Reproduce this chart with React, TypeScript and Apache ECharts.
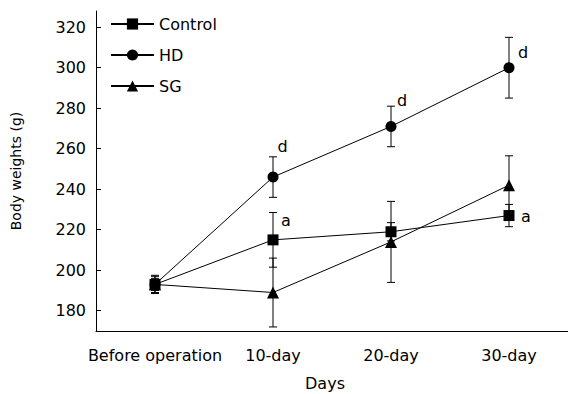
import React, { useEffect, useRef } from 'react';
import * as echarts from 'echarts';

const categories = ['Before operation', '10-day', '20-day', '30-day'];
const controlMean = [193, 215, 219, 227];
const controlSD = [4, 13.5, 4.5, 5.5];
const hdMean = [193, 246, 271, 300];
const hdSD = [4.5, 10, 10, 15];
const sgMean = [193, 189, 214, 242];
const sgSD = [3, 17, 20, 14.5];
const controlMarks = ['', 'a', '', 'a'];
const hdMarks = ['', 'd', 'd', 'd'];
const sgMarks = ['', '', '', ''];
const yTicks = [180, 200, 220, 240, 260, 280, 300, 320];

const FONT = 'DejaVu Sans';

// label offsets (style): relative to the marker centre
const markOffsets: Record<string, number[][]> = {
  Control: [[0, 0], [13, -19], [0, 0], [17, 1]],
  HD: [[0, 0], [9.5, -31], [11, -26], [14, -15]],
  SG: [[0, 0], [0, 0], [0, 0], [0, 0]],
};

function lineData(name: string, means: number[], marks: string[]) {
  return means.map((v, i) =>
    marks[i]
      ? {
          value: v,
          label: {
            show: true,
            formatter: marks[i],
            position: 'inside',
            offset: markOffsets[name][i],
            color: '#000',
            fontSize: 16,
            fontFamily: FONT,
          },
        }
      : v
  );
}

function errData(means: number[], sds: number[]) {
  return means.map((m, i) => [i, m, sds[i]]);
}

const renderErr = (params: any, api: any) => {
  const i = api.value(0);
  const m = api.value(1);
  const e = api.value(2);
  const top = api.coord([i, m + e]);
  const bot = api.coord([i, m - e]);
  const x = top[0];
  const w = 4;
  const style = { stroke: '#000', lineWidth: 1, fill: 'none' };
  return {
    type: 'group',
    children: [
      { type: 'line', shape: { x1: x, y1: top[1], x2: x, y2: bot[1] }, style },
      { type: 'line', shape: { x1: x - w, y1: top[1], x2: x + w, y2: top[1] }, style },
      { type: 'line', shape: { x1: x - w, y1: bot[1], x2: x + w, y2: bot[1] }, style },
    ],
  };
};

export default function App() {
  const ref = useRef<HTMLDivElement>(null);
  useEffect(() => {
    if (!ref.current) return;
    const chart = echarts.init(ref.current, undefined, { renderer: 'svg' });
    const lineSeries = (name: string, symbol: string, size: number, means: number[], marks: string[]) => ({
      name,
      type: 'line',
      data: lineData(name, means, marks),
      symbol,
      symbolSize: size,
      showAllSymbol: true,
      itemStyle: { color: '#000', borderWidth: 0 },
      lineStyle: { color: '#000', width: 1 },
      z: 3,
    });
    const errSeries = (means: number[], sds: number[]) => ({
      type: 'custom',
      renderItem: renderErr,
      data: errData(means, sds),
      z: 2,
      silent: true,
    });
    chart.setOption({
      animation: false,
      backgroundColor: '#fff',
      textStyle: { fontFamily: FONT },
      grid: { left: 96, right: 0, top: 11, bottom: 63, containLabel: false, outerBoundsMode: 'none' },
      legend: {
        data: ['Control', 'HD', 'SG'],
        orient: 'vertical',
        left: 110,
        top: 16,
        padding: 0,
        itemWidth: 43,
        itemHeight: 14,
        itemGap: 15,
        textStyle: { fontSize: 16, color: '#000', fontFamily: FONT },
      },
      xAxis: {
        type: 'category',
        data: categories,
        boundaryGap: true,
        axisLine: { lineStyle: { color: '#000', width: 1 } },
        axisTick: { inside: true, length: 8, alignWithLabel: true, lineStyle: { color: '#000' } },
        axisLabel: { interval: 0, color: '#000', fontSize: 16, fontFamily: FONT, margin: 16 },
        name: 'Days',
        nameLocation: 'middle',
        nameGap: 44,
        nameTextStyle: { color: '#000', fontSize: 16, fontFamily: FONT, padding: [0, 14, 0, 0] },
        splitLine: { show: false },
      },
      yAxis: {
        type: 'value',
        min: 170,
        max: 328,
        axisLine: { show: true, lineStyle: { color: '#000', width: 1 } },
        axisTick: { show: true, inside: true, length: 5, customValues: yTicks, lineStyle: { color: '#000' } },
        axisLabel: { color: '#000', fontSize: 16, fontFamily: FONT, margin: 10, customValues: yTicks },
        splitLine: { show: false },
        name: 'Body weights (g)',
        nameLocation: 'middle',
        nameRotate: 90,
        nameGap: 73,
        nameTextStyle: { color: '#000', fontSize: 14, fontFamily: FONT },
      },
      series: [
        errSeries(sgMean, sgSD),
        errSeries(hdMean, hdSD),
        errSeries(controlMean, controlSD),
        lineSeries('SG', 'triangle', 12, sgMean, sgMarks),
        lineSeries('HD', 'circle', 11, hdMean, hdMarks),
        lineSeries('Control', 'rect', 11, controlMean, controlMarks),
      ],
    });
    return () => chart.dispose();
  }, []);
  return (
    <div
      ref={ref}
      style={{ position: 'fixed', left: 0, top: 0, width: 568, height: 394, background: '#fff' }}
    />
  );
}
